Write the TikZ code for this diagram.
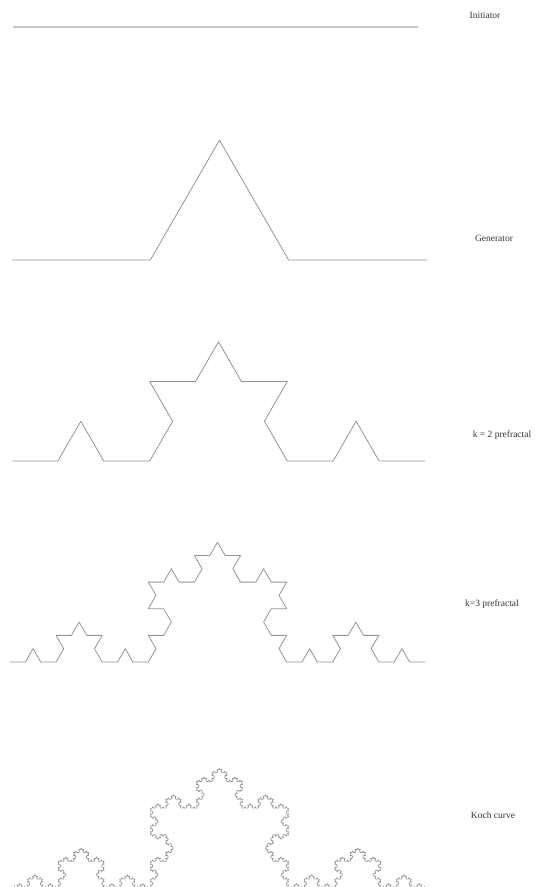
\documentclass[tikz,border=0pt]{standalone}
\usepackage{fontspec}
\setmainfont{Liberation Serif}
\usetikzlibrary{decorations.fractals}
\begin{document}
\begin{tikzpicture}[x=1pt,y=1pt,
  curve/.style={draw=black!42, line width=0.8pt, line join=round},
  initline/.style={draw=black!22, line width=1.6pt},
  lbl/.style={font=\fontsize{9.5}{11}\selectfont, text=black!80, inner sep=0pt},
  decoration=Koch snowflake]
\useasboundingbox (0,0) rectangle (536,887);
% initiator
\coordinate (i0) at (13,860);
\coordinate (i1) at (418,860);
\draw[initline] (i0) -- (i1);
% generator (order 1)
\coordinate (g0) at (12,627);
\coordinate (g1) at (427,627);
\draw[curve] decorate{ (g0) -- (g1) };
% k = 2
\coordinate (a0) at (12,426);
\coordinate (a1) at (425,426);
\draw[curve] decorate{ decorate{ (a0) -- (a1) }};
% k = 3
\coordinate (b0) at (10,225);
\coordinate (b1) at (425,225);
\draw[curve] decorate{ decorate{ decorate{ (b0) -- (b1) }}};
% Koch curve
\coordinate (c0) at (12,-1);
\coordinate (c1) at (427,-1);
\draw[curve, line width=0.7pt] decorate{ decorate{ decorate{ decorate{ decorate{ (c0) -- (c1) }}}}};
% labels
\node[lbl] (tInit) at (485,872) {Initiator};
\node[lbl] (tGen) at (494,649) {Generator};
\node[lbl] (tK2) at (502,452) {k = 2 prefractal};
\node[lbl] (tK3) at (492,283) {k=3 prefractal};
\node[lbl] (tKoch) at (493,72) {Koch curve};
\end{tikzpicture}
\end{document}
